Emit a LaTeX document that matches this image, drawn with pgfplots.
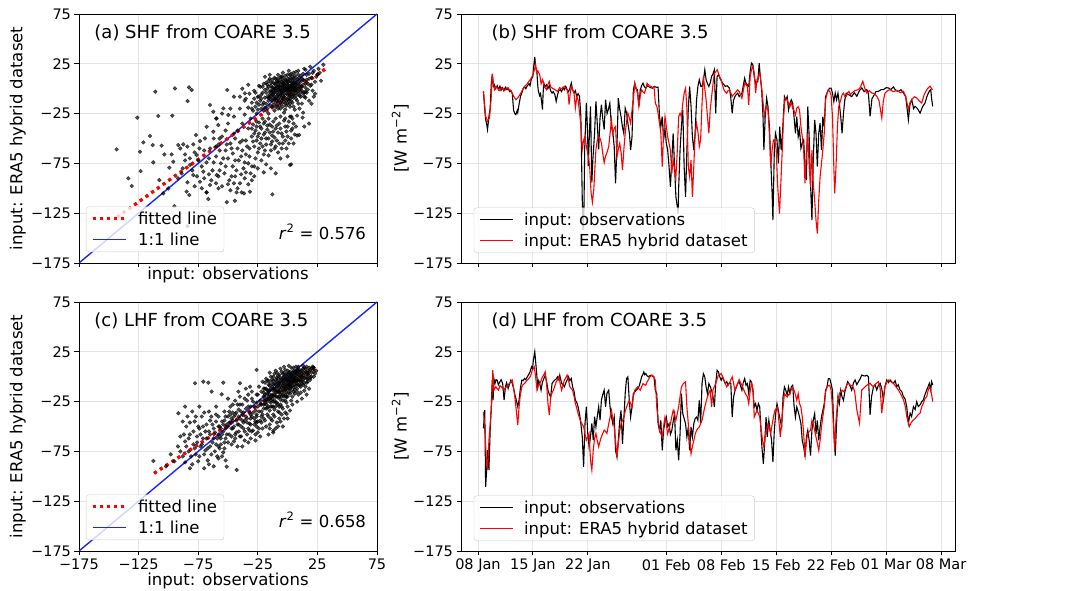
\documentclass[border=0pt]{standalone}
\usepackage{pgfplots}
\pgfplotsset{compat=1.18}
\usepackage{fontspec}
\setmainfont{DejaVu Sans}

\pgfplotsset{
  base/.style={
    scale only axis,
    anchor=south west,
    ymin=-175, ymax=75,
    ytick={-175,-125,-75,-25,25,75},
    yticklabels={−175,−125,−75,−25,25,75},
    grid=major,
    grid style={gray!22, line width=0.8pt},
    tick align=outside,
    tick pos=left,
    major tick length=4.5pt,
    tick style={black, line width=0.8pt},
    axis line style={black, line width=0.8pt},
    ticklabel style={font=\fontsize{14.5}{14.5}\selectfont},
    label style={font=\fontsize{16.5}{16.5}\selectfont},
    legend style={font=\fontsize{16.5}{18}\selectfont, draw=black!20, rounded corners=3pt, fill=white, fill opacity=0.8, text opacity=1, anchor=south west, inner xsep=5pt, inner ysep=3pt, row sep=3pt, column sep=9pt},
    legend cell align=left,
    legend image code/.code={\draw[##1] (0pt,0.3pt) -- (33pt,0.3pt);},
  },
  scat/.style={base, width=298pt, height=249pt, xmin=-175, xmax=75,
    xtick={-175,-125,-75,-25,25,75},
    legend style={at={(0.023,0.044)}},
    ylabel={input: ERA5 hybrid dataset},
    ylabel style={at={(axis description cs:-0.205,0.5)}, anchor=center},
    xlabel={input: observations}},
  ts/.style={base, width=494pt, height=249pt, xmin=4.84, xmax=67.78,
    xtick={7,14,21,31,38,45,52,59,66},
    legend style={at={(0.026,0.04)}},
    ylabel={[W m\textsuperscript{−2}]},
    ylabel style={at={(axis description cs:-0.123,0.5)}, anchor=center}},
  pts/.style={only marks, mark=*, mark size=1.9pt, mark options={fill=black, draw=none, opacity=0.68}, forget plot},
  fitline/.style={color=red, line width=3pt, dash pattern=on 3pt off 4pt},
  oneline/.style={color={rgb,255:red,20;green,40;blue,255}, line width=1.4pt},
}

\begin{document}
\begin{tikzpicture}
\useasboundingbox (0pt,0pt) rectangle (1072pt,591pt);

% ---------------- (a) ----------------
\begin{axis}[scat, at={(79pt,328pt)}, xticklabels={},
  xlabel style={at={(axis description cs:0.5,-0.016)}, anchor=north, inner sep=0pt}]
\addplot[pts] coordinates {
(-143.4,-60.9)(-126.1,-29.1)(-108.5,-27.4)(-96.7,-27.1)(-111,-3)(-94.5,0.3)(-82.7,1.3)(-80.5,-1.3)(-83.9,-12.4)(-115.4,-47.5)(-121,-53.9)(-123.8,-63.3)(-113.2,-56.6)(-105.7,-57.2)(-103.4,-66)(-112.7,-74)(-123.3,-82.7)(-133.6,-90)(-130.8,-97.7)(-97.3,-66)(-95.9,-73.3)(-99.2,-79.3)(-91.7,-56.6)(-87.5,-55.9)(-84.1,-58.2)(-79.1,-55.9)(-76.9,-46.5)(-73.5,-52.6)(-69.3,-49.9)(-107.6,-91.7)(-100.1,-100.1)(-104.3,-105.1)(-84.7,-103.4)(-82.5,-106.8)(-67.9,-104.1)(-66.5,-110.8)(-42.8,-104.1)(-38.6,-104.1)(-36.6,-105.1)(-44.2,-112.5)(-31.6,-103.4)(-12.8,-106.1)(2,-76.6)(9.8,-46.5)(12.6,-29.1)(-50.6,-1.3)(-45,-8)(-35.8,-4.7)(-65.1,-16.4)(-62.3,-23.1)(-59.5,-29.8)(-53.9,-19.8)(-49.7,-26.4)(-67.9,-38.2)(-62.3,-43.2)(-58.1,-36.5)(-76.3,-66.6)(-81.9,-76.6)(-88.9,-85)(-79.1,-86.7)(-73.5,-93.4)(-70.7,-83.3)(-65.1,-96.7)(-59.5,-86.7)(-95,-118)(-84,-138)(-66,-124)(-51,-114)(3,-76)(14,-38)(18,-35)(20,-15)(23,-5)
(-35,-10)(-32,-5)(-30,-14)(-28,-2)(-27,-18)(-25,-8)(-24,3)(-23,-12)(-22,-20)(-21,-4)(-20,5)(-19,-9)(-18,-15)(-17,0)(-16,8)(-15,-6)(-14,-11)(-14,3)(-13,-19)(-12,-2)(-12,6)(-11,-8)(-10,10)(-10,-14)(-9,-4)(-9,2)(-8,-10)(-8,7)(-7,-1)(-7,-17)(-6,4)(-6,-6)(-5,12)(-5,-12)(-4,0)(-4,-3)(-3,8)(-3,-8)(-2,2)(-2,-15)(-1,-5)(-1,5)(0,10)(0,-2)(1,-9)(1,3)(2,14)(2,-4)(3,6)(3,-12)(4,0)(4,9)(5,-6)(5,16)(6,3)(6,-2)(7,11)(7,-10)(8,5)(8,-3)(9,18)(9,0)(10,8)(10,-7)(11,13)(12,2)(12,-15)(13,9)(14,20)(14,-4)(15,5)(16,14)(17,-1)(18,10)(19,22)(20,4)(21,16)(22,-8)(24,12)(26,20)(28,8)(30,24)(-26,-25)(-20,-22)(-16,-25)(-11,-22)(-6,-20)(-3,-24)(2,-18)(6,-21)(10,-20)(-15,10)(-19,12)(-8,14)(-4,16)(1,18)(-24,-16)(-29,-22)(-33,-19)(-36,-26)(-13,-6)(-11,0)(-9,-12)(-7,6)(-5,-9)(-3,1)(-1,-12)(0,4)(2,-7)(4,12)(-2,9)(-6,-2)(-10,4)(-14,-2)(-18,-4)(-22,-10)(-16,-12)(-12,-16)(-8,-20)(-4,-18)(0,-15)(3,-1)(7,1)(11,-3)(15,-9)(18,-12)(13,-24)(8,-27)(3,-28)(-2,-30)
(-8,2)(-6,9)(-4,6)(-2,-1)(0,7)(1,0)(-1,1)(-3,4)(-5,-1)(-7,3)(2,9)(4,4)(6,7)(5,1)(3,3)(-9,8)(-11,5)(-13,1)(-15,-3)(-10,-2)
(-22,-6)(-21,2)(-20,-14)(-19,-1)(-18,6)(-17,-8)(-17,-20)(-16,2)(-15,-17)(-15,14)(-14,-7)(-13,9)(-13,-12)(-12,-9)(-12,1)(-11,-4)(-11,11)(-10,-10)(-10,0)(-9,6)(-9,-17)(-8,-6)(-8,10)(-7,-12)(-7,-3)(-6,1)(-6,12)(-5,-15)(-5,-4)(-5,7)(-4,-10)(-4,3)(-4,11)(-3,-5)(-3,-13)(-3,5)(-2,-9)(-2,0)(-2,13)(-1,-2)(-1,8)(-1,-17)(0,-6)(0,1)(0,14)(1,-12)(1,-2)(1,7)(2,0)(2,-10)(2,11)(3,-6)(3,3)(3,15)(4,-3)(4,6)(4,-14)(5,2)(5,10)(5,-9)(6,-5)(6,13)(6,0)(7,-7)(7,4)(7,17)(8,1)(8,-12)(8,9)(9,-5)(9,5)(9,14)(10,-1)(10,11)(10,3)(11,-8)(11,7)(12,10)(12,-2)(13,4)(13,15)(14,-8)(14,8)(15,1)(15,19)(16,-4)(16,9)(17,5)(18,15)(19,3)(20,11)(21,-2)(22,18)(23,7)(25,14)(27,16)(-24,-8)(-26,-14)(-28,-10)(-30,-20)(-27,-4)(-23,2)(-25,-21)(-21,-16)(-19,-19)(-17,4)(-14,6)(-16,-9)(-10,-18)(-6,-14)(-2,-21)(2,-15)(5,-18)(9,-15)(0,-11)(-4,-7)(-8,-1)(-12,-5)(3,-3)(6,6)(-1,3)(-3,-1)(1,1)(-5,2)(-7,-8)(4,-8)(7,-2)(-9,-7)(11,1)(13,-5)(-11,-11)(-13,-3)(-15,-9)(15,-3)
(-31,-30)(-29,-36)(-27,-42)(-30,-48)(-26,-52)(-28,-58)(-24,-34)(-22,-40)(-20,-46)(-23,-55)(-19,-62)(-21,-30)(-17,-37)(-15,-44)(-18,-50)(-14,-56)(-12,-33)(-10,-40)(-13,-47)(-9,-52)(-11,-60)(-7,-35)(-5,-45)(-8,-64)(-4,-55)(-2,-38)(0,-48)(-1,-60)(3,-42)(5,-55)(1,-33)(7,-38)(-25,-64)(-16,-67)(-6,-70)(-33,-40)(-35,-52)(-32,-60)(0,-68)(4,-30)(8,-47)(-26,-38)(-19,-33)(-13,-38)(-24,-45)
(-30,-40)(-28,-45)(-26,-33)(-25,-48)(-23,-38)(-22,-50)(-21,-58)(-20,-35)(-19,-44)(-18,-56)(-17,-41)(-16,-50)(-15,-36)(-14,-62)(-13,-53)(-12,-43)(-11,-49)(-10,-58)(-9,-37)(-8,-44)(-7,-55)(-6,-40)(-5,-60)(-4,-48)(-3,-32)(-2,-52)(-1,-43)(0,-38)(1,-55)(2,-28)(3,-50)(4,-40)(5,-35)(6,-46)(-29,-53)(-24,-60)(-20,-66)(-16,-30)(-10,-30)(-6,-28)
(-62,-50)(-58,-56)(-55,-48)(-52,-62)(-48,-55)(-45,-45)(-42,-60)(-38,-52)(-35,-66)(-60,-68)(-56,-75)(-50,-70)(-46,-78)(-41,-72)(-37,-80)(-33,-75)(-63,-82)(-58,-88)(-53,-85)(-49,-92)(-44,-88)(-40,-95)(-36,-90)(-31,-85)(-28,-78)(-55,-98)(-48,-102)(-42,-100)(-60,-95)(-65,-60)(-52,-42)(-46,-65)(-39,-68)(-30,-92)(-27,-70)(-44,-50)(-57,-62)(-34,-58)
(-60,-58)(-57,-50)(-54,-70)(-51,-56)(-47,-60)(-44,-72)(-43,-82)(-40,-54)(-38,-62)(-36,-74)(-35,-84)(-32,-68)(-30,-78)(-47,-88)(-52,-78)(-57,-82)(-62,-74)(-64,-92)(-58,-100)(-50,-96)(-45,-95)(-39,-86)(-33,-96)(-28,-88)(-25,-80)(-22,-72)(-20,-84)(-18,-76)(-14,-80)(-10,-85)
(-90,-60)(-86,-66)(-82,-70)(-78,-64)(-75,-72)(-72,-78)(-68,-74)(-88,-80)(-80,-82)(-76,-88)(-70,-90)(-66,-86)(-92,-90)(-84,-94)(-78,-98)(-72,-100)(-68,-104)(-86,-72)(-74,-60)(-70,-62)(-66,-70)
(-60,-30)(-55,-25)(-50,-35)(-45,-28)(-40,-20)(-38,-35)(-42,-42)(-48,-20)(-40,-8)(-38,0)(-36,-12)(-33,4)
};
\addplot[fitline] coordinates {(-143,-129) (33,21)};
\addlegendentry{fitted line}
\addplot[oneline] coordinates {(-175,-175) (75,75)};
\addlegendentry{1:1 line}
\addplot[fitline, forget plot] coordinates {(-143,-129) (33,21)};
\node[anchor=west, font=\fontsize{18}{18}\selectfont] at (rel axis cs:0.04,0.924) {(a) SHF from COARE 3.5};
\node[anchor=east, font=\fontsize{16.5}{16.5}\selectfont] at (rel axis cs:0.975,0.125) {\textit{r}\textsuperscript{2} = 0.576};
\end{axis}

% ---------------- (c) ----------------
\begin{axis}[scat, at={(79pt,40pt)}, xticklabels={−175,−125,−75,−25,25,75},
  xlabel style={at={(axis description cs:0.5,-0.088)}, anchor=north, inner sep=0pt}]
\addplot[pts] coordinates {
(-112.6,-84.6)(-77.7,-6.6)(-70.7,-5)(-66.5,-6)(-53.9,-6)(-63.7,-15)(-55.3,-17.7)(-86,-30)(-91.6,-36.7)(-42.7,-93.6)(-51.1,-90.3)(-81.9,-92)(-26,6.8)(-0.8,-37.4)(-12,-54.2)(21.6,9.4)(-39.9,-6.6)(-41.3,-15)(-31.5,-10)
(-25,-30)(-25,-18)(-24,-10)(-23,-24)(-22,-15)(-22,-35)(-21,-5)(-20,-20)(-20,-28)(-19,-12)(-18,-2)(-18,-32)(-17,-17)(-17,-25)(-16,-8)(-15,-14)(-15,-22)(-14,0)(-14,-30)(-13,-10)(-13,-18)(-12,-4)(-12,-25)(-11,-13)(-11,3)(-10,-20)(-10,-8)(-9,-1)(-9,-15)(-8,-28)(-8,-6)(-7,2)(-7,-11)(-6,-18)(-6,-23)(-5,-3)(-5,5)(-4,-9)(-4,-14)(-3,-20)(-3,0)(-2,7)(-2,-6)(-1,-12)(-1,-26)(0,-2)(0,3)(1,-8)(1,-16)(2,5)(2,-3)(3,-10)(3,9)(4,0)(4,-20)(5,-5)(5,6)(6,-13)(6,2)(7,-1)(7,10)(8,-7)(8,4)(9,-18)(9,-3)(10,7)(10,1)(11,-10)(12,3)(12,-4)(13,8)(14,-1)(14,-14)(15,5)(16,-6)(17,2)(18,9)(19,-3)(20,4)(21,10)(22,0)(24,6)(-16,-40)(-12,-38)(-8,-35)(-4,-32)(0,-30)(4,-28)(8,-25)(12,-22)(16,-18)(18,-12)(-19,-6)(-15,4)(-10,6)(-6,8)(-3,10)(1,11)(3,-24)(-2,-18)(-7,-30)(-11,-33)(-14,-42)(-1,-4)(-4,3)(-8,-2)(-12,-8)(-16,-14)(-20,-12)(-23,-28)(-26,-40)(6,-8)(9,10)(11,-16)(13,-8)(15,-10)(17,-2)(8,-12)(5,-15)
(-6,-4)(-3,-7)(0,-9)(2,-12)(-9,-10)(-5,-16)(1,-4)(4,-6)(-2,-2)(6,-3)(-8,-14)(-12,-14)(-16,-20)(-19,-24)(-10,-26)(-14,-24)(3,1)(7,5)(10,-4)(-1,-20)
(-20,-16)(-20,-24)(-20,-32)(-19,-18)(-19,-27)(-18,-12)(-18,-22)(-18,-28)(-17,-14)(-17,-31)(-17,-4)(-16,-22)(-16,-30)(-16,-4)(-15,-9)(-15,-18)(-15,-34)(-14,-12)(-14,-20)(-14,-26)(-14,-6)(-13,-22)(-13,-30)(-13,-3)(-12,-12)(-12,-19)(-12,-30)(-12,0)(-11,-7)(-11,-18)(-11,-24)(-10,-3)(-10,-12)(-10,-16)(-10,-30)(-9,-5)(-9,-20)(-9,-26)(-9,4)(-8,-9)(-8,-15)(-8,-21)(-8,1)(-7,-6)(-7,-15)(-7,-20)(-7,-36)(-6,-1)(-6,-9)(-6,-13)(-6,-28)(-5,-7)(-5,-11)(-5,-20)(-5,-30)(-4,-1)(-4,-5)(-4,-18)(-4,-24)(-3,-3)(-3,-10)(-3,-14)(-3,4)(-2,-10)(-2,-13)(-2,-24)(-2,1)(-1,-8)(-1,-16)(-1,2)(-1,-20)(0,-4)(0,-8)(0,-13)(0,-20)(0,6)(1,-1)(1,-5)(1,-11)(1,4)(2,-7)(2,-10)(2,0)(2,-17)(3,-2)(3,-5)(3,2)(3,-14)(4,-5)(4,-9)(4,4)(4,-1)(5,-2)(5,2)(5,-11)(5,9)(6,-4)(6,5)(6,-1)(6,-17)(7,-5)(7,3)(7,-9)(8,0)(8,-4)(8,7)(8,-15)(9,2)(9,-8)(9,6)(10,-2)(10,4)(10,-9)(11,0)(11,5)(11,-5)(12,6)(12,-7)(12,0)(13,2)(13,-3)(13,11)(14,4)(14,9)(14,-6)(15,0)(15,8)(16,3)(16,10)(16,-2)(17,6)(17,-5)(18,1)(18,5)(19,7)(19,-1)(20,8)(20,0)(22,5)(22,9)(23,3)
(-55,-45)(-54,-55)(-53,-35)(-52,-62)(-51,-48)(-50,-40)(-49,-58)(-48,-30)(-47,-52)(-46,-44)(-45,-65)(-44,-38)(-43,-56)(-42,-28)(-41,-48)(-40,-60)(-39,-35)(-38,-44)(-37,-52)(-36,-22)(-35,-40)(-34,-58)(-33,-30)(-32,-47)(-31,-38)(-30,-55)(-29,-25)(-28,-42)(-27,-34)(-26,-50)(-25,-45)(-33,-18)(-38,-28)(-44,-24)(-50,-22)(-47,-68)(-42,-70)(-36,-64)(-31,-62)(-27,-58)(-53,-72)(-57,-60)(-58,-40)(-40,-20)(-35,-12)(-30,-15)(-46,-36)(-41,-40)(-37,-36)(-32,-54)(-28,-48)(-45,-50)(-49,-46)(-52,-52)(-39,-50)(-34,-46)(-43,-44)(-48,-38)(-31,-30)(-26,-26)(-29,-36)(-24,-52)(-22,-46)(-20,-42)(-18,-50)(-15,-48)(-10,-52)(-6,-45)(-3,-42)(-12,-56)(-8,-50)(-16,-58)
(-54,-48)(-52,-40)(-51,-58)(-50,-50)(-49,-35)(-48,-46)(-47,-60)(-46,-52)(-45,-40)(-44,-58)(-43,-36)(-42,-48)(-41,-55)(-40,-42)(-39,-60)(-38,-38)(-37,-46)(-36,-55)(-35,-32)(-34,-42)(-33,-52)(-32,-36)(-31,-48)(-30,-40)(-29,-54)(-28,-30)(-27,-45)(-26,-38)(-25,-56)(-24,-35)(-23,-44)(-22,-28)(-21,-38)(-21,-52)(-23,-60)(-27,-64)(-33,-66)(-38,-70)(-44,-62)(-50,-66)(-56,-52)(-58,-58)(-53,-44)(-47,-42)(-41,-33)(-36,-44)(-31,-42)(-26,-46)(-22,-40)(-19,-44)(-17,-38)(-15,-52)(-13,-44)(-11,-40)(-9,-46)(-7,-42)(-5,-38)(-4,-50)(-2,-36)(0,-42)(2,-34)(-46,-28)(-40,-28)(-34,-24)(-30,-22)(-26,-18)
(-92,-70)(-90,-60)(-88,-80)(-86,-65)(-85,-50)(-83,-75)(-82,-58)(-80,-88)(-79,-68)(-78,-45)(-77,-78)(-76,-60)(-75,-85)(-74,-52)(-73,-70)(-72,-40)(-71,-62)(-70,-78)(-69,-55)(-68,-48)(-67,-72)(-66,-88)(-65,-58)(-64,-40)(-63,-66)(-62,-52)(-61,-75)(-60,-45)(-59,-62)(-58,-82)(-57,-50)(-56,-68)(-55,-80)(-70,-92)(-62,-90)(-84,-40)(-88,-45)(-80,-35)(-95,-85)(-98,-78)(-102,-90)(-66,-35)(-74,-30)(-60,-30)(-58,-70)(-75,-50)
(-90,-75)(-87,-58)(-85,-70)(-83,-62)(-81,-80)(-79,-55)(-78,-72)(-76,-66)(-74,-80)(-73,-58)(-72,-68)(-71,-50)(-69,-74)(-68,-62)(-67,-84)(-66,-55)(-65,-70)(-64,-78)(-63,-48)(-62,-62)(-61,-56)(-60,-68)(-59,-80)(-58,-50)(-57,-72)(-56,-62)(-55,-58)(-54,-76)(-53,-66)(-52,-84)(-86,-86)(-82,-46)(-77,-40)(-70,-36)(-65,-44)(-60,-38)
};
\addplot[fitline] coordinates {(-112,-97) (25,10)};
\addlegendentry{fitted line}
\addplot[oneline] coordinates {(-175,-175) (75,75)};
\addlegendentry{1:1 line}
\addplot[fitline, forget plot] coordinates {(-112,-97) (25,10)};
\node[anchor=west, font=\fontsize{18}{18}\selectfont] at (rel axis cs:0.04,0.924) {(c) LHF from COARE 3.5};
\node[anchor=east, font=\fontsize{16.5}{16.5}\selectfont] at (rel axis cs:0.975,0.125) {\textit{r}\textsuperscript{2} = 0.658};
\end{axis}

% ---------------- (b) ----------------
\begin{axis}[ts, at={(461pt,328pt)}, xticklabels={}]
\addplot[black, line width=1.1pt] coordinates {
(7.70,-2.7)(7.85,-20)(7.98,-31)(8.10,-35)(8.22,-41)(8.40,-27.7)(8.55,-20)(8.70,5)(8.82,14)(8.95,2)(9.10,4)(9.25,0)(9.45,3)(9.60,-1)(9.80,2.5)(9.95,-1.5)(10.15,1)(10.30,-2)(10.50,1.5)(10.70,-1)(10.85,0.5)(11.05,-3)(11.20,-2)(11.37,-5)(11.55,-22)(11.70,-25)(11.83,-26)(12.00,-22)(12.07,-24)(12.25,-15)(12.42,-7.7)(12.60,-4)(12.75,0)(12.94,2)(13.10,0)(13.30,3)(13.50,5)(13.64,3)(13.80,10)(13.99,12)(14.10,22)(14.24,32)(14.35,22)(14.52,15.7)(14.60,5)(14.69,-2)(14.85,-7)(14.97,-5)(15.10,-12)(15.22,-21)(15.30,-5)(15.39,5.7)(15.55,2)(15.74,4)(15.90,0)(16.09,3)(16.25,-2)(16.44,-4.3)(16.60,-3)(16.80,-6)(16.97,-12.7)(17.15,-6)(17.30,-2)(17.49,-1)(17.65,-3)(17.84,1)(18.00,-1)(18.19,2.3)(18.35,-1)(18.54,-3)(18.70,0)(18.89,5.7)(19.05,-1)(19.24,-4.3)(19.40,-2)(19.59,-7.7)(19.75,-5)(19.94,-7.7)(20.11,-27.7)(20.29,-111)(20.39,-142)(20.50,-125)(20.60,-60)(20.81,-14.3)(20.95,-40)(21.06,-77.7)(21.20,-45)(21.34,-17.7)(21.51,-94.3)(21.65,-70)(21.86,-44.3)(22.03,-12.7)(22.20,-35)(22.38,-61)(22.55,-30)(22.73,-16)(22.90,-30)(23.08,-41)(23.26,-11)(23.45,-25)(23.61,-21)
(23.80,-14.6)(24.01,-38.1)(24.20,-45)(24.36,-58.2)(24.53,-95.1)(24.71,-58.2)(24.88,-9.6)(25.05,-20)(25.23,-28)(25.40,-38)(25.58,-44.8)(25.76,-19.6)(25.95,-25)(26.10,-34.7)(26.30,-45)(26.45,-61.6)(26.63,-48.1)(26.80,-1.2)(26.98,5.5)(27.15,0)(27.33,-1.2)(27.50,-17.9)(27.68,-1.2)(27.85,3)(28.03,5.5)(28.20,2)(28.38,0.5)(28.55,3)(28.73,2.2)(29.00,1)(29.25,0.5)(29.50,2)(29.75,1.5)(29.95,1.5)(30.13,-28)(30.30,-38.1)(30.48,-28)(30.65,-51.5)(30.83,-40)(31.00,-55)(31.17,-61.6)(31.35,-78.3)(31.52,-98.5)(31.70,-71.6)(31.87,-44.8)(32.05,-78.3)(32.22,-108.5)(32.40,-118.6)(32.50,-125.3)(32.57,-100)(32.75,-61.6)(32.92,-38.1)(33.10,-21.3)(33.27,-78.3)(33.45,-108.5)(33.62,-61.6)(33.80,-20)(33.97,2.2)(34.15,-17.9)(34.32,-48.1)(34.50,-61.6)(34.67,-44.8)(34.85,-11.2)(35.02,2.2)(35.20,8.9)(35.40,2.2)(35.55,2.2)(35.75,10)(35.90,19)(36.07,8.9)(36.25,5)(36.42,2.2)(36.60,6)(36.77,12.3)(36.95,15)(37.12,19)(37.29,-24.7)(37.47,12.3)(37.65,14)(37.82,10.6)(38.00,8)(38.17,5.5)(38.35,4)(38.52,2.2)(38.75,3)(39.04,0.5)(39.20,-8)(39.39,-24.7)(39.55,-12)(39.74,-7.9)(39.90,-6)(40.09,-4.5)
(40.28,-7.9)(40.63,-4.5)(40.98,10.6)(41.15,5.5)(41.50,2.2)(41.68,17.3)(41.85,25.7)(42.03,24)(42.20,12.3)(42.38,5.5)(42.66,7.2)(42.83,25.7)(42.97,12.3)(43.15,-1.2)(43.32,-28)(43.43,-61.6)(43.60,-28)(43.78,-9.6)(43.95,-17.9)(44.13,-38.1)(44.30,-71.6)(44.48,-105.2)(44.58,-132)(44.76,-61.6)(44.90,-44.8)(45.10,-51.5)(45.28,-75)(45.45,-38.1)(45.63,-61.6)(45.80,-44.8)(46.05,-7.9)(46.22,-11.2)(46.40,-7.9)(46.57,-21.3)(46.75,-14.6)(46.92,-11.2)(47.10,-14.6)(47.27,-28)(47.45,-44.8)(47.62,-28)(47.80,-48.1)(47.97,-41)(48.15,-60)(48.32,-54.9)(48.50,-51.5)(48.67,-78.3)(48.85,-91.8)(49.02,-17.9)(49.20,-48.1)(49.37,-95.1)(49.55,-132)(49.72,-71.6)(49.90,-31.4)(50.07,-44.8)(50.24,-78.3)(50.42,-44.8)(50.59,-34.7)(50.77,-61.6)(50.94,-28)(51.12,-38.1)(51.29,-7.9)(51.47,-4.5)(51.64,-1.2)(51.82,0.5)(51.99,0.5)(52.17,-4.5)(52.34,-12.9)(52.52,-4.5)(52.69,-11.2)(52.87,-4.5)(53.04,-14.6)(53.22,-28)(53.39,-44.8)(53.57,-24.7)(53.74,-11.2)(53.92,-4.5)(54.27,-6.2)(54.62,-7.9)
(54.95,-4)(55.27,-7.6)(55.60,-2)(55.90,0.8)(56.20,-3)(56.54,-0.9)(56.75,-5)(56.96,-27.8)(57.20,-10)(57.39,-7.6)(57.70,-3)(58.02,-2.6)(58.35,-1)(58.66,-0.9)(59.00,1)(59.30,0.8)(59.60,-1)(59.93,1.8)(60.25,-2)(60.57,-2.6)(60.90,-1)(61.21,-4.3)(61.50,-8)(61.84,-31.2)(62.05,-15)(62.27,-11)(62.50,-20)(62.69,-17.7)(63.00,-20)(63.33,-24.5)(63.65,-18)(63.96,-14.4)(64.20,-8)(64.39,-4.3)(64.55,-2)(64.69,-0.9)(64.80,-10)(64.94,-17.7)
};
\addlegendentry{input: observations}
\addplot[red, line width=1.1pt] coordinates {
(7.70,-2.7)(7.98,-27.7)(8.22,-32.7)(8.47,-29.3)(8.68,-10)(8.82,15)(9.10,-1)(9.30,2)(9.45,1)(9.65,-1)(9.80,-2)(10.00,1)(10.15,0)(10.35,-2)(10.50,-1)(10.70,1)(10.85,0)(11.05,-1)(11.20,-2)(11.40,-5)(11.55,-7.7)(11.83,-11)(12.07,-9.3)(12.42,-5)(12.70,-1)(12.94,2.3)(13.20,4)(13.47,7.3)(13.75,10)(13.99,14)(14.15,18)(14.34,24)(14.50,16)(14.62,18)(14.87,14)(15.05,5)(15.22,9)(15.45,2)(15.74,-1)(15.90,4)(16.09,7.3)(16.25,2)(16.44,0.7)(16.80,-1)(17.14,-2.7)(17.40,1)(17.66,0)(18.01,2.3)(18.20,0)(18.36,-1)(18.50,-6)(18.61,-16)(18.75,-5)(18.89,2.3)(19.05,-1)(19.24,-4.3)(19.41,-19.3)(19.60,-8)(19.76,-11)(20.04,-31)(20.29,-61)(20.45,-52)(20.64,-47.7)(20.81,-57.7)(21.06,-67.7)(21.23,-77.7)(21.41,-104.3)(21.58,-114)(21.76,-101)(21.90,-80)(22.03,-61)(22.20,-52)(22.38,-47.7)(22.55,-50)(22.73,-54.3)(22.90,-65)(23.08,-74.3)(23.25,-68)(23.43,-64.3)(23.66,-58.2)(24.01,-31.4)(24.18,-44.8)(24.35,-40)(24.53,-38.1)(24.71,-68.3)(24.90,-60)(25.06,-54.9)(25.25,-65)(25.41,-81.7)(25.60,-60)(25.76,-44.8)(25.95,-32)(26.10,-24.7)(26.30,-30)(26.45,-34.7)(26.65,-20)(26.80,-11.2)(26.98,5.5)(27.15,0)(27.33,-4.5)(27.50,-17.9)(27.70,-6)(27.85,-1.2)(28.00,-3)(28.20,-4.5)(28.40,0)(28.55,5.5)(28.80,3)(29.08,2.2)(29.25,1)(29.43,2.2)(29.60,-14.6)(29.80,-18)(29.95,-24.7)(30.13,-35)(30.30,-44.8)(30.48,-78.3)(30.65,-44.8)(30.83,-28)(31.00,-38.1)(31.17,-48.1)(31.35,-55)(31.52,-61.6)(31.70,-85.1)(31.87,-71.6)(32.05,-80)(32.22,-88.4)(32.40,-61.6)(32.57,-28)(32.75,-24.7)(32.92,-28)(33.10,-14.6)(33.27,-4.5)(33.45,0.5)(33.62,-19.6)(33.80,-78.3)(33.97,-88.4)(34.15,-71.6)(34.32,-108.5)(34.50,-78.3)(34.67,-44.8)(34.85,-34.7)(35.05,-45)(35.20,-58.2)(35.37,-51.5)(35.55,-14.6)(35.72,12.3)(35.90,0)(36.07,-11.2)(36.24,-28)(36.42,-44.8)(36.59,-21.3)(36.77,-7.9)(36.95,5)(37.12,15.6)(37.30,17)(37.47,19)(37.64,15.6)(37.80,12)(37.99,8.9)(38.15,4)(38.34,-1.2)(38.50,-3)(38.69,-4.5)(38.85,-2)(39.04,-1.2)(39.20,-4)(39.39,-7.9)(39.55,-6)(39.74,-4.5)(39.90,-3)(40.09,-1.2)(40.28,-2.8)(40.63,-9.6)(40.98,5.5)(41.15,4)(41.33,2.2)(41.50,-16.3)(41.68,12.3)(41.85,19)(42.03,22.3)(42.20,15.6)(42.38,-4.5)(42.55,8.9)(42.70,12)(42.90,15.6)(43.08,5.5)(43.25,-7.9)(43.50,-28)(43.71,-17.9)(43.95,-21.3)(44.13,-44.8)(44.30,-78.3)(44.48,-61.6)(44.65,-51.5)(44.83,-51.5)(45.00,-61.6)(45.17,-95.1)(45.42,-125.3)(45.59,-95.1)(45.77,-61.6)(45.94,-28)(46.12,-9.6)(46.40,-11.2)(46.57,-15)(46.75,-17.9)(46.92,-14)(47.10,-19.6)(47.27,-22)(47.45,-26.3)(47.62,-19.6)(47.80,-18)(47.97,-21.3)(48.15,-38.1)(48.32,-48.1)(48.50,-61.6)(48.67,-95.1)(48.85,-61.6)(49.02,-44.8)(49.20,-78.3)(49.37,-98.5)(49.55,-61.6)(49.72,-95.1)(49.90,-111.9)(50.07,-132)(50.24,-145.5)(50.42,-111.9)(50.59,-88.4)(50.77,-75)(50.94,-61.6)(51.12,-44.8)(51.29,-11.2)(51.47,-4.5)(51.64,-1.2)(51.82,-2.8)(51.99,-6.2)(52.17,-28)(52.34,-78.3)(52.45,-105.2)(52.62,-78.3)(52.80,-38.1)(52.97,-17.9)(53.22,-11.2)(53.40,-6)(53.57,-4.5)(53.75,-8)(53.92,-7.9)(54.10,-4)(54.27,-2.8)(54.45,-6)(54.62,-4.5)(55.00,-2)(55.48,-0.9)(55.75,2)(56.03,7.5)(56.30,0)(56.54,-4.3)(56.85,-2)(57.18,-4.3)(57.50,-5)(57.81,-7.6)(58.10,-12)(58.45,-29.5)(58.65,-12)(58.87,-4.3)(59.20,-2)(59.51,-0.9)(59.90,-3)(60.36,-1.6)(60.80,-4)(61.21,-2.6)(61.50,-8)(61.84,-21.1)(62.05,-14)(62.27,-11)(62.60,-8)(62.90,-9.3)(63.20,-12)(63.54,-14.4)(63.85,-6)(64.18,-0.9)(64.40,1)(64.60,2.5)(64.80,0)(64.94,-0.9)
};
\addlegendentry{input: ERA5 hybrid dataset}
\node[anchor=west, font=\fontsize{18}{18}\selectfont] at (rel axis cs:0.055,0.924) {(b) SHF from COARE 3.5};
\end{axis}

% ---------------- (d) ----------------
\begin{axis}[ts, at={(461pt,40pt)},
  xticklabels={08 Jan,15 Jan,22 Jan,01 Feb,08 Feb,15 Feb,22 Feb,01 Mar,08 Mar}]
\addplot[black, line width=1.1pt] coordinates {
(7.70,-51.9)(7.87,-33.5)(7.98,-110.5)(8.10,-95)(8.22,-73.7)(8.40,-93.7)(8.57,-50.3)(8.68,-33.5)(8.82,-3.4)(8.93,-23.5)(9.03,-1.8)(9.17,-6.8)(9.30,-3)(9.45,-3.4)(9.60,-8)(9.80,-5.1)(9.95,-3)(10.15,-6.8)(10.33,-23.5)(10.50,-10.1)(10.65,-6)(10.85,-11.8)(11.00,-8)(11.20,-3.4)(11.37,-6.8)(11.55,-12)(11.72,-18.5)(11.90,-24)(12.07,-30.2)(12.24,-23.5)(12.40,-12)(12.59,-3.4)(12.75,-4)(12.94,-1.8)(13.10,-3)(13.29,-0.1)(13.45,2)(13.64,4.9)(13.82,9.9)(13.95,8)(14.06,16.6)(14.24,25)(14.41,9.9)(14.62,-10.1)(14.75,-4)(14.87,-6.8)(15.04,-13.5)(15.20,-6)(15.32,-3.4)(15.57,1.6)(15.75,-5)(15.92,-13.5)(16.10,-18)(16.27,-20.2)(16.44,-6.8)(16.60,-5)(16.79,-3.4)(17.00,-2)(17.14,-0.1)(17.30,-3)(17.42,1.6)(17.66,-6.8)(17.85,-8)(18.01,-10.1)(18.20,-6)(18.36,-3.4)(18.54,-0.1)(18.70,-4)(18.89,-1.8)(19.06,-10.1)(19.25,-15)(19.41,-23.5)(19.60,-26)(19.76,-30.2)(19.95,-38)(20.11,-46.9)(20.29,-60.3)(20.46,-90.4)(20.64,-46.9)(20.81,-30.2)(20.99,-57)(21.16,-70.3)(21.34,-60.3)(21.51,-46.9)(21.69,-63.6)(21.86,-40.2)(22.03,-50.3)(22.20,-40)(22.38,-30.2)(22.56,-43.6)(22.73,-23.5)(22.90,-18)(23.08,-13.5)(23.26,-30.2)(23.43,-16.8)(23.66,-13.6)(23.83,-30.4)(24.00,-40)(24.18,-47.2)(24.36,-40.5)(24.53,-74)(24.71,-80.7)(24.88,-64)(25.05,-45)(25.23,-33.8)(25.41,-67.3)(25.58,-43.8)(25.76,-17)(25.93,-1.9)(26.10,-0.2)(26.28,-23.7)(26.45,-40.5)(26.63,-30.4)(26.80,-17)(27.00,-15)(27.15,-13.6)(27.35,-12)(27.50,-10.3)(27.70,-5)(27.85,-0.2)(28.00,2)(28.13,4.8)(28.25,2)(28.38,3.1)(28.55,1)(28.73,-0.2)(28.90,1)(29.08,1.5)(29.25,0.5)(29.43,-0.2)(29.60,-13.6)(29.78,-17)(29.95,-47.2)(30.13,-53.9)(30.30,-43.8)(30.48,-74)(30.65,-53.9)(30.83,-45)(31.00,-40.5)(31.17,-50)(31.35,-47.2)(31.52,-58)(31.70,-53.9)(31.87,-45)(32.05,-37.1)(32.22,-74)(32.40,-64)(32.57,-84.1)(32.75,-57.3)(32.92,-17)(33.10,-37.1)(33.27,-42)(33.45,-47.2)(33.62,-60.6)(33.80,-50.5)(33.97,-74)(34.15,-50.5)(34.32,-60.6)(34.50,-47.2)(34.67,-42)(34.85,-40.5)(35.02,-43.8)(35.20,-23.7)(35.37,-47.2)(35.55,-6.9)(35.72,3.1)(35.90,-0.2)(36.07,-10.3)(36.24,-17)(36.42,-6.9)(36.60,-10)(36.77,-13.6)(36.95,-20)(37.12,-30.4)(37.29,-6.9)(37.47,6.5)(37.64,4.8)(37.80,0)(37.99,-3.6)(38.17,-0.2)(38.35,-4)(38.52,-6.9)(38.70,-5)(38.87,-8.6)(39.04,-6)(39.22,-6.9)(39.39,-40.5)(39.57,-20.3)(39.75,-14)(39.92,-10.3)(40.09,-6.9)(40.28,-5.2)(40.45,-9)(40.63,-13.6)(40.80,-6)(40.98,-1.9)(41.15,-8.6)(41.33,-6.9)(41.50,-17)(41.68,-3.6)(41.85,-5.2)(42.03,-13.6)(42.20,-30.4)(42.38,-27.1)(42.55,-33.8)(42.73,-27.1)(42.90,-30.4)(43.08,-57.3)(43.18,-70.7)(43.36,-87.5)(43.50,-70.7)(43.71,-40.5)(43.85,-60.6)(44.06,-43.8)(44.23,-53.9)(44.41,-64)(44.58,-85.8)(44.76,-53.9)(44.93,-37.1)(45.10,-27.1)(45.35,-37.1)(45.52,-43.8)(45.70,-50.5)(45.87,-20.3)(46.05,-10.3)(46.22,-13.6)(46.40,-18.7)(46.57,-10.3)(46.75,-17)(46.92,-10.3)(47.10,-8.6)(47.27,-28.7)(47.45,-40.5)(47.62,-30.4)(47.80,-35)(47.97,-40.5)(48.15,-47.2)(48.32,-64)(48.50,-70.7)(48.67,-79.1)(48.85,-60.6)(49.02,-53.9)(49.20,-64)(49.37,-79.1)(49.55,-53.9)(49.72,-43.8)(49.90,-37.1)(50.07,-57.3)(50.24,-43.8)(50.42,-64)(50.59,-50.5)(50.77,-40.5)(50.94,-33.8)(51.12,-27.1)(51.29,-13.6)(51.47,-10.3)(51.64,-1.9)(51.82,-1.9)(51.99,-6.9)(52.17,-13.6)(52.34,-53.9)(52.52,-79.1)(52.69,-47.2)(52.87,-20.3)(53.04,-27.1)(53.22,-13.6)(53.39,-20.3)(53.57,-23.7)(53.75,-15)(53.92,-10.3)(54.10,-5)(54.27,-6.9)(54.45,-10)(54.62,-13.6)(54.85,-6)(55.05,-3.3)(55.27,-8)(55.48,-5)(55.70,-2)(55.90,1.7)(56.10,1)(56.33,0.7)(56.55,1.5)(56.75,0)(56.96,-38.3)(57.15,-20)(57.39,-10)(57.60,-8)(57.81,-13.3)(58.00,-9)(58.24,-6.7)(58.45,-12)(58.66,-23.3)(58.85,-10)(59.09,-3.3)(59.30,-6)(59.51,-3.3)(59.70,-5)(59.93,-6.7)(60.15,-4)(60.36,-10)(60.55,-8)(60.78,-13.3)(61.00,-15)(61.21,-20)(61.40,-22)(61.63,-30)(61.84,-46.7)(62.06,-36.7)(62.25,-40)(62.48,-30)(62.70,-33)(62.90,-25)(63.10,-30)(63.33,-28.3)(63.55,-25)(63.75,-23.3)(63.95,-18)(64.18,-13.3)(64.35,-10)(64.51,-6.7)(64.69,-13.3)(64.80,-5)(64.94,-8.3)
};
\addlegendentry{input: observations}
\addplot[red, line width=1.1pt] coordinates {
(7.70,-35.2)(7.87,-50.3)(8.05,-80.4)(8.22,-93.7)(8.40,-63.6)(8.57,-46.9)(8.75,-26.8)(8.89,6.6)(9.03,-13.5)(9.27,-10.1)(9.45,-12)(9.62,-13.5)(9.80,-9)(9.97,-10.1)(10.15,-12)(10.32,-13.5)(10.50,-11)(10.67,-10.1)(10.85,-8)(11.02,-6.8)(11.20,-5)(11.37,-3.4)(11.55,-12)(11.72,-21.8)(11.90,-35)(12.07,-48.6)(12.24,-30.2)(12.40,-18)(12.59,-10.1)(12.75,-8)(12.94,-6.8)(13.10,-5)(13.29,-3.4)(13.45,-2)(13.64,-0.1)(13.80,3)(13.92,6.6)(14.05,8)(14.17,9.9)(14.35,0)(14.52,-13.5)(14.70,-9)(14.87,-6.8)(15.05,-4)(15.22,-0.1)(15.40,2)(15.57,4.9)(15.75,-8)(15.92,-26.8)(16.09,-38.5)(16.27,-20.2)(16.45,-16)(16.62,-13.5)(16.80,-9)(16.97,-5.1)(17.15,-3)(17.31,-0.1)(17.50,-8)(17.66,-13.5)(17.85,-8)(18.01,-3.4)(18.20,-1)(18.36,1.6)(18.55,-4)(18.71,-10.1)(18.90,-12)(19.06,-13.5)(19.25,-20)(19.41,-26.8)(19.60,-32)(19.76,-36.9)(19.95,-42)(20.11,-45.2)(20.30,-48)(20.46,-50.3)(20.65,-58)(20.81,-63.6)(21.00,-60)(21.16,-57)(21.34,-83.7)(21.51,-93.7)(21.69,-73.7)(21.86,-62)(22.03,-57)(22.20,-64)(22.38,-70.3)(22.55,-65)(22.73,-60.3)(22.90,-57)(23.08,-53.6)(23.25,-55)(23.43,-57)(23.66,-47.2)(23.85,-40)(24.01,-33.8)(24.18,-42)(24.36,-50.5)(24.53,-64)(24.71,-80.7)(24.88,-67.3)(25.05,-55)(25.23,-47.2)(25.40,-44)(25.58,-40.5)(25.75,-35)(25.93,-30.4)(26.10,-27)(26.28,-23.7)(26.45,-27)(26.63,-30.4)(26.80,-20)(26.98,-13.6)(27.15,-12)(27.33,-10.3)(27.50,-12)(27.68,-13.6)(27.85,-10)(28.03,-6.9)(28.20,-8)(28.38,-8.6)(28.55,-5.2)(28.73,-3)(28.90,-0.2)(29.08,1)(29.25,1.5)(29.43,-1)(29.60,-3.6)(29.78,-30.4)(29.95,-42)(30.13,-53.9)(30.30,-57)(30.48,-60.6)(30.65,-50)(30.83,-40.5)(31.00,-48)(31.17,-57.3)(31.35,-52)(31.52,-47.2)(31.70,-40)(31.87,-33.8)(32.05,-38)(32.22,-43.8)(32.40,-37)(32.57,-30.4)(32.75,-20)(32.92,-10.3)(33.17,-6.9)(33.45,-5.2)(33.62,-30.4)(33.80,-47.2)(33.97,-64)(34.15,-77.4)(34.32,-70)(34.50,-64)(34.67,-58)(34.85,-53.9)(35.02,-52)(35.20,-50.5)(35.37,-47)(35.55,-43.8)(35.72,-37)(35.90,-30.4)(36.07,-25)(36.24,-20.3)(36.42,-16)(36.59,-13.6)(36.77,-30.4)(36.94,-13.6)(37.12,-10)(37.29,-6.9)(37.47,-2)(37.64,1.5)(37.80,2)(37.99,3.1)(38.17,0)(38.34,-3.6)(38.52,-7)(38.69,-10.3)(38.87,-8)(39.04,-6.9)(39.22,-3)(39.39,-0.2)(39.57,-7)(39.74,-13.6)(39.92,-10)(40.09,-6.9)(40.28,-2.9)(40.45,-6)(40.63,-8.6)(40.80,-12)(40.98,-15.3)(41.15,-18)(41.33,-20.3)(41.50,-27.1)(41.68,-15)(41.85,-6.9)(42.03,-12)(42.20,-40.5)(42.38,-37)(42.55,-33.8)(42.73,-37)(42.90,-40.5)(43.08,-52)(43.25,-64)(43.43,-70.7)(43.57,-62)(43.71,-53.9)(43.95,-47.2)(44.13,-52)(44.30,-57.3)(44.48,-48)(44.65,-40.5)(44.83,-33.8)(45.00,-32)(45.17,-30.4)(45.35,-45)(45.52,-60.6)(45.70,-43.8)(45.87,-30.4)(46.05,-17)(46.22,-19)(46.40,-20.3)(46.57,-18)(46.75,-17)(46.92,-13)(47.10,-10.3)(47.27,-13.6)(47.45,-18)(47.62,-23.7)(47.80,-17)(47.97,-27.1)(48.15,-30.4)(48.32,-40.5)(48.50,-57.3)(48.67,-80.7)(48.85,-64)(49.02,-57.3)(49.20,-55)(49.37,-53.9)(49.55,-43.8)(49.72,-47.2)(49.90,-54)(50.07,-60.6)(50.25,-67)(50.42,-74)(50.59,-64)(50.77,-50.5)(50.94,-40)(51.12,-30.4)(51.29,-15.3)(51.47,-10.3)(51.64,-9)(51.82,-8.6)(51.99,-13.6)(52.17,-30.4)(52.34,-57.3)(52.45,-74)(52.59,-47.2)(52.80,-27.1)(53.04,-17)(53.20,-15)(53.39,-13.6)(53.55,-15)(53.74,-13.6)(53.90,-10)(54.09,-6.9)(54.25,-7)(54.44,-8.6)(54.60,-9)(54.79,-10.3)(55.00,-15)(55.27,-33.3)(55.61,-46.6)(55.90,-13.3)(56.10,-12)(56.33,-10)(56.65,-8)(56.96,-6.6)(57.20,-9)(57.39,-10)(57.70,-7)(58.02,-5)(58.25,-12)(58.45,-36.6)(58.65,-20)(58.87,-10)(59.10,-5)(59.30,-3.3)(59.60,-5)(59.93,-6.6)(60.25,-10)(60.57,-13.3)(60.90,-18)(61.21,-23.3)(61.45,-30)(61.63,-40)(61.97,-50)(62.20,-46)(62.48,-43.3)(62.70,-42)(62.90,-40)(63.10,-38)(63.33,-36.6)(63.55,-30)(63.75,-26.6)(63.95,-22)(64.18,-20)(64.35,-14)(64.51,-10)(64.69,-13.3)(64.80,-18)(64.94,-25)
};
\addlegendentry{input: ERA5 hybrid dataset}
\node[anchor=west, font=\fontsize{18}{18}\selectfont] at (rel axis cs:0.055,0.924) {(d) LHF from COARE 3.5};
\end{axis}
\end{tikzpicture}
\end{document}
